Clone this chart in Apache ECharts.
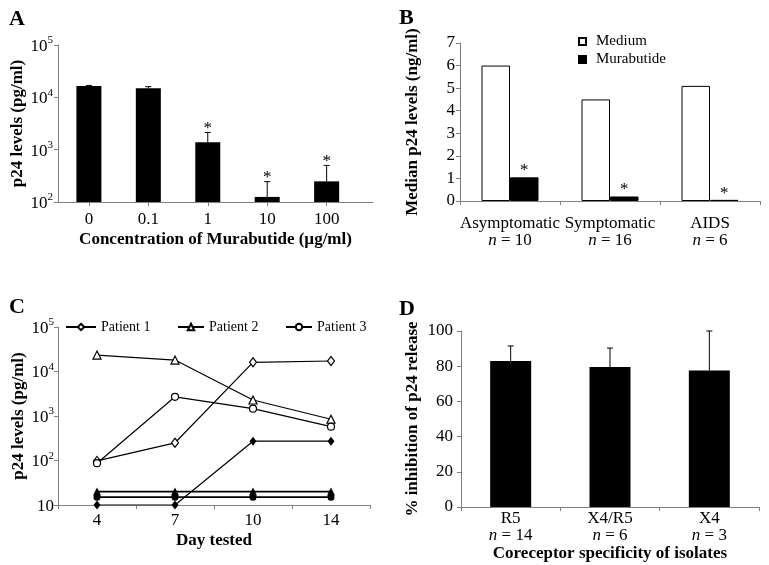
<!DOCTYPE html>
<html>
<head>
<meta charset="utf-8">
<script src="https://cdn.jsdelivr.net/npm/echarts@6/dist/echarts.min.js"></script>
<style>html,body{margin:0;padding:0;background:#fff}#chart{width:769px;height:565px}</style>
</head>
<body>
<div id="chart"></div>
<script>
// Panel A
const concLabels = ['0', '0.1', '1', '10', '100'];
const p24Mean = [16500, 14900, 1390, 125, 248];
const p24ErrTop = [16900, 16000, 2130, 245, 500];
const p24Sig = [0, 0, 1, 1, 1];
// Panel B
const stageLabels = ['Asymptomatic', 'Symptomatic', 'AIDS'];
const stageN = [10, 16, 6];
const mediumVals = [6.0, 4.5, 5.1];
const muraVals = [1.05, 0.2, 0.05];
const muraSig = [1, 1, 1];
// Panel C
const days = ['4', '7', '10', '14'];
const patient1 = [98, 250, 16100, 17200];
const patient2 = [23400, 18100, 2290, 846];
const patient3 = [87, 2700, 1460, 575];
const patient1Mura = [10, 10, 272, 272];
const patient2Mura = [20, 20, 20, 20];
const patient3Mura = [15, 15, 15, 15];
// Panel D
const coreceptors = ['R5', 'X4/R5', 'X4'];
const coreN = [14, 6, 3];
const inhibMean = [83, 79.5, 77.5];
const inhibErrTop = [91.5, 90.3, 100];

const FONT = 'Liberation Serif';
const AX = '#808080';
const chart = echarts.init(document.getElementById('chart'));

function powLabel(v) {
  const e = Math.round(Math.log10(v));
  return e === 1 ? '{b|10}' : '{b|10}{s|' + e + '}';
}
const powRich = {
  b: { fontSize: 17, fontFamily: FONT, color: '#000', lineHeight: 20, verticalAlign: 'bottom' },
  s: { fontSize: 11, fontFamily: FONT, color: '#000', lineHeight: 11, verticalAlign: 'top' }
};
const catRich = {
  l: { fontSize: 17, fontFamily: FONT, color: '#000', lineHeight: 17 },
  i: { fontSize: 17, fontFamily: FONT, color: '#000', fontStyle: 'italic', lineHeight: 17 }
};
const nameStyle = { fontSize: 17, fontFamily: FONT, fontWeight: 'bold', color: '#000' };
const axLine = { show: true, onZero: false, lineStyle: { color: AX, width: 1 } };
const axTick = { show: true, length: 4, lineStyle: { color: AX } };

function makeErrRender(tops, sigs) {
  return function (params, api) {
    const i = params.dataIndex;
    const x = api.value(0), m = api.value(1);
    const p0 = api.coord([x, m]);
    const p1 = api.coord([x, tops[i]]);
    const children = [
      { type: 'line', shape: { x1: p0[0], y1: p0[1], x2: p1[0], y2: p1[1] }, style: { stroke: '#000', lineWidth: 1 } },
      { type: 'line', shape: { x1: p1[0] - 3, y1: p1[1], x2: p1[0] + 3, y2: p1[1] }, style: { stroke: '#000', lineWidth: 1 } }
    ];
    if (sigs && sigs[i]) {
      children.push({ type: 'text', style: { text: '*', x: p1[0], y: p1[1] - 4, align: 'center', verticalAlign: 'middle', fontSize: 17, fontFamily: FONT, fill: '#000' } });
    }
    return { type: 'group', children: children };
  };
}

const legendText = { fontSize: 14, fontFamily: FONT, color: '#000' };

const option = {
  animation: false,
  backgroundColor: '#fff',
  textStyle: { fontFamily: FONT },
  graphic: [
    { type: 'text', left: 9, top: 8, style: { text: 'A', fontSize: 22, fontWeight: 'bold', fontFamily: FONT, fill: '#000' } },
    { type: 'text', left: 399, top: 7, style: { text: 'B', fontSize: 22, fontWeight: 'bold', fontFamily: FONT, fill: '#000' } },
    { type: 'text', left: 9, top: 296, style: { text: 'C', fontSize: 22, fontWeight: 'bold', fontFamily: FONT, fill: '#000' } },
    { type: 'text', left: 399, top: 298, style: { text: 'D', fontSize: 22, fontWeight: 'bold', fontFamily: FONT, fill: '#000' } }
  ],
  legend: [
    { orient: 'vertical', left: 578, top: 34, padding: 0, itemWidth: 7, itemHeight: 7, itemGap: 3, icon: 'rect',
      data: ['Medium', 'Murabutide'],
      textStyle: { fontSize: 15, fontFamily: FONT, color: '#000', padding: [0, 0, 0, 5] } },
    { left: 65, top: 320, padding: 0, itemWidth: 30, itemHeight: 8, data: ['Patient 1'], textStyle: legendText },
    { left: 177, top: 320, padding: 0, itemWidth: 26, itemHeight: 8, data: ['Patient 2'], textStyle: legendText },
    { left: 285, top: 320, padding: 0, itemWidth: 26, itemHeight: 8, data: ['Patient 3'], textStyle: legendText }
  ],
  grid: [
    { left: 58, top: 45, width: 315, height: 157 },
    { left: 460, top: 43, width: 300, height: 158 },
    { left: 58, top: 327, width: 312, height: 178 },
    { left: 461, top: 331, width: 298, height: 176 }
  ],
  xAxis: [
    { gridIndex: 0, type: 'value', min: -0.52, max: 4.78,
      axisLine: axLine, axisTick: Object.assign({}, axTick, { customValues: [0, 1, 2, 3, 4] }),
      splitLine: { show: false },
      axisLabel: { customValues: [0, 1, 2, 3, 4], formatter: v => concLabels[Math.round(v)], margin: 9,
        fontSize: 17, fontFamily: FONT, color: '#000' },
      name: 'Concentration of Murabutide (µg/ml)', nameLocation: 'middle', nameGap: 29, nameTextStyle: nameStyle },
    { gridIndex: 1, type: 'category', data: stageLabels,
      axisLine: axLine, axisTick: axTick,
      axisLabel: { interval: 0, margin: 14, formatter: (v, i) => '{l|' + v + '}\n{i|n}{l| = ' + stageN[i] + '}', rich: catRich } },
    { gridIndex: 2, type: 'category', data: days,
      axisLine: axLine, axisTick: axTick,
      axisLabel: { interval: 0, margin: 7, fontSize: 17, fontFamily: FONT, color: '#000' },
      name: 'Day tested', nameLocation: 'middle', nameGap: 27, nameTextStyle: nameStyle },
    { gridIndex: 3, type: 'category', data: coreceptors,
      axisLine: axLine, axisTick: axTick,
      axisLabel: { interval: 0, margin: 3, formatter: (v, i) => '{l|' + v + '}\n{i|n}{l| = ' + coreN[i] + '}', rich: catRich },
      name: 'Coreceptor specificity of isolates', nameLocation: 'middle', nameGap: 37, nameTextStyle: nameStyle }
  ],
  yAxis: [
    { gridIndex: 0, type: 'log', logBase: 10, min: 100, max: 100000,
      axisLine: axLine, axisTick: axTick, splitLine: { show: false }, minorTick: { show: false },
      axisLabel: { margin: 5, formatter: powLabel, rich: powRich },
      name: 'p24 levels (pg/ml)', nameLocation: 'middle', nameGap: 30, nameTextStyle: nameStyle },
    { gridIndex: 1, type: 'value', min: 0, max: 7, interval: 1,
      axisLine: axLine, axisTick: axTick, splitLine: { show: false },
      axisLabel: { margin: 5, fontSize: 17, fontFamily: FONT, color: '#000' },
      name: 'Median p24 levels (ng/ml)', nameLocation: 'middle', nameGap: 39, nameTextStyle: nameStyle },
    { gridIndex: 2, type: 'log', logBase: 10, min: 10, max: 100000,
      axisLine: axLine, axisTick: axTick, splitLine: { show: false },
      axisLabel: { margin: 4, formatter: powLabel, rich: powRich },
      name: 'p24 levels (pg/ml)', nameLocation: 'middle', nameGap: 29, nameTextStyle: nameStyle },
    { gridIndex: 3, type: 'value', min: 0, max: 100, interval: 20,
      axisLine: axLine, axisTick: axTick, splitLine: { show: false },
      axisLabel: { margin: 8, fontSize: 17, fontFamily: FONT, color: '#000' },
      name: '% inhibition of p24 release', nameLocation: 'middle', nameGap: 40, nameTextStyle: nameStyle }
  ],
  series: [
    // Panel A bars
    { type: 'custom', xAxisIndex: 0, yAxisIndex: 0,
      data: p24Mean.map((v, i) => [i, v]),
      renderItem: function (params, api) {
        const top = api.coord([api.value(0), api.value(1)]);
        const base = api.coord([api.value(0), 100]);
        const w = 25;
        return { type: 'rect', shape: { x: top[0] - w / 2, y: top[1], width: w, height: base[1] - top[1] }, style: { fill: '#000' } };
      } },
    { type: 'custom', xAxisIndex: 0, yAxisIndex: 0,
      data: p24Mean.map((v, i) => [i, v]),
      renderItem: makeErrRender(p24ErrTop, p24Sig), z: 3 },
    // Panel B
    { name: 'Medium', type: 'bar', xAxisIndex: 1, yAxisIndex: 1, data: mediumVals,
      barWidth: 28.5, barGap: '0%',
      itemStyle: { color: '#fff', borderColor: '#000', borderWidth: 1 } },
    { name: 'Murabutide', type: 'bar', xAxisIndex: 1, yAxisIndex: 1, data: muraVals,
      barWidth: 28.5, barGap: '0%',
      itemStyle: { color: '#000', borderColor: '#000', borderWidth: 1 },
      label: { show: true, position: 'top', distance: -2, formatter: p => muraSig[p.dataIndex] ? '*' : '',
        fontSize: 17, fontFamily: FONT, color: '#000' } },
    // Panel C
    { name: 'Patient 1', type: 'line', xAxisIndex: 2, yAxisIndex: 2, data: patient1,
      symbol: 'diamond', symbolSize: [7, 9], showAllSymbol: true,
      lineStyle: { color: '#000', width: 1.2 }, itemStyle: { color: '#fff', borderColor: '#000', borderWidth: 1.2 } },
    { name: 'Patient 2', type: 'line', xAxisIndex: 2, yAxisIndex: 2, data: patient2,
      symbol: 'triangle', symbolSize: 8,
      lineStyle: { color: '#000', width: 1.2 }, itemStyle: { color: '#fff', borderColor: '#000', borderWidth: 1.2 } },
    { name: 'Patient 3', type: 'line', xAxisIndex: 2, yAxisIndex: 2, data: patient3,
      symbol: 'circle', symbolSize: 7,
      lineStyle: { color: '#000', width: 1.2 }, itemStyle: { color: '#fff', borderColor: '#000', borderWidth: 1.2 } },
    { name: 'Patient 1 + Murabutide', type: 'line', xAxisIndex: 2, yAxisIndex: 2, data: patient1Mura,
      symbol: 'diamond', symbolSize: [7, 9],
      lineStyle: { color: '#000', width: 1.2 }, itemStyle: { color: '#000' } },
    { name: 'Patient 2 + Murabutide', type: 'line', xAxisIndex: 2, yAxisIndex: 2, data: patient2Mura,
      symbol: 'triangle', symbolSize: 8,
      lineStyle: { color: '#000', width: 1.6 }, itemStyle: { color: '#000' } },
    { name: 'Patient 3 + Murabutide', type: 'line', xAxisIndex: 2, yAxisIndex: 2, data: patient3Mura,
      symbol: 'circle', symbolSize: 7,
      lineStyle: { color: '#000', width: 1.6 }, itemStyle: { color: '#000' } },
    // Panel D
    { type: 'bar', xAxisIndex: 3, yAxisIndex: 3, data: inhibMean, barWidth: 41,
      itemStyle: { color: '#000' } },
    { type: 'custom', xAxisIndex: 3, yAxisIndex: 3,
      data: inhibMean.map((v, i) => [i, v]),
      renderItem: makeErrRender(inhibErrTop, null), z: 3 }
  ]
};
chart.setOption(option);
</script>
</body>
</html>
